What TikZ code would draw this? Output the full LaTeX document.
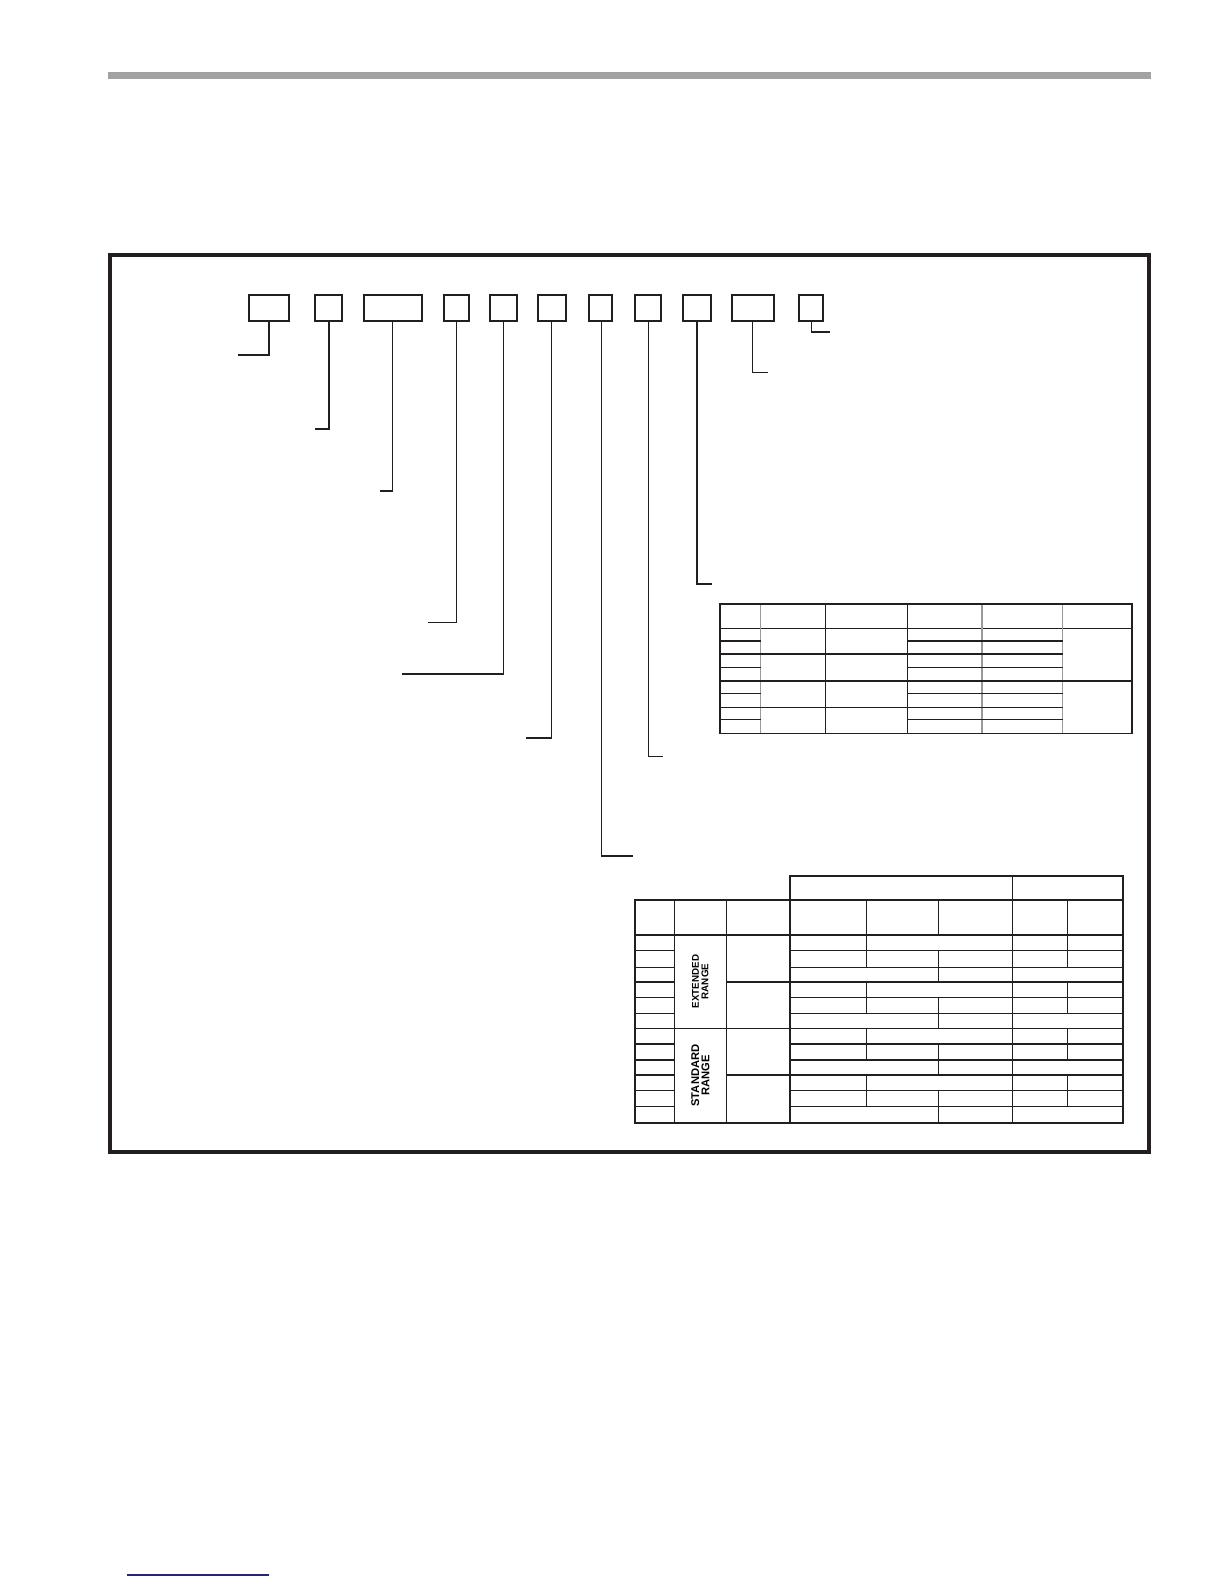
\documentclass[tikz,border=0pt]{standalone}
\usepackage{fontspec}
\setmainfont{Liberation Sans}
\definecolor{ink}{HTML}{231F20}
\definecolor{barGray}{HTML}{A2A2A2}
\definecolor{lineGray}{HTML}{9A9A9A}
\definecolor{navyRule}{HTML}{25257F}
\tikzset{
  codebox/.style={draw=ink, line width=1pt, inner sep=0pt, minimum height=13pt},
  leadthin/.style={draw=ink, line width=0.6pt},
  leadthick/.style={draw=ink, line width=1pt},
  tline/.style={draw=ink, line width=0.55pt},
  tgray/.style={draw=lineGray, line width=0.55pt},
  tthick/.style={draw=ink, line width=1pt},
  rangelabel/.style={rotate=90, align=center, inner sep=0pt}
}
\begin{document}
\begin{tikzpicture}[x=0.5pt, y=-0.5pt]
\useasboundingbox (0,0) rectangle (1224,1584);
% top grey rule and frame
\fill[barGray] (108,72) rectangle (1151,79);
\draw[ink, line width=2pt] (110,254.7) rectangle (1149,1152);
% bottom navy rule
\draw[navyRule, line width=0.6pt] (127.3,1575) -- (268.7,1575);

% code boxes
\node[codebox, minimum width=20pt]    (b1)  at (269.3,308.3) {};
\node[codebox, minimum width=13.5pt]  (b2)  at (328.8,308.3) {};
\node[codebox, minimum width=29pt]    (b3)  at (392.7,308.3) {};
\node[codebox, minimum width=12.65pt] (b4)  at (456.35,308.3) {};
\node[codebox, minimum width=13.2pt]  (b5)  at (503.5,308.3) {};
\node[codebox, minimum width=13.85pt] (b6)  at (551.85,308.3) {};
\node[codebox, minimum width=11.7pt]  (b7)  at (600.6,308.3) {};
\node[codebox, minimum width=13.15pt] (b8)  at (648.15,308.3) {};
\node[codebox, minimum width=13.7pt]  (b9)  at (697,308.3) {};
\node[codebox, minimum width=20.85pt] (b10) at (752.85,308.3) {};
\node[codebox, minimum width=12pt]    (b11) at (811.3,308.3) {};

% leader ends
\coordinate (l1) at (238,355);
\coordinate (l2) at (315,429);
\coordinate (l3) at (380,491);
\coordinate (l4) at (428.3,622.7);
\coordinate (l5) at (402,674);
\coordinate (l6) at (526,738);
\coordinate (l7) at (632.7,856);
\coordinate (l8) at (662.7,756.7);
\coordinate (l9) at (711.7,584);
\coordinate (l10) at (767.5,372.7);
\coordinate (l11) at (830,332);

\draw[leadthick] (b1.south) |- (l1);
\draw[leadthick] (b2.south) |- (l2);
\draw[leadthin]  (b3.south) |- (l3);
\draw[leadthin]  (b4.south) |- (l4);
\draw[leadthin]  (b5.south) |- (l5);
\draw[leadthin]  (b6.south) |- (l6);
\draw[leadthin]  ([xshift=0.6pt]b7.south) |- (l7);
\draw[leadthin]  (b8.south) |- (l8);
\draw[leadthick] (b9.south) |- (l9);
\draw[leadthin]  (b10.south) |- (l10);
\draw[leadthin]  (b11.south) |- (l11);

% ---------- small table ----------
\draw[tline] (720,628.3) -- (1132,628.3);
\foreach \x in {825.3,907.3} \draw[tline] (\x,604) -- (\x,733.3);
\foreach \x in {760.7,982,1062.7} \draw[tgray] (\x,604) -- (\x,733.3);
\foreach \y in {641,654,667.3,681,693.3,707.3,719.3} {
  \draw[tline] (720,\y) -- (760.7,\y);
  \draw[tline] (907.3,\y) -- (1062.7,\y);
}
\foreach \y in {654,681,707.3} \draw[tline] (760.7,\y) -- (907.3,\y);
\draw[tline] (1062.7,681) -- (1132,681);
\draw[ink, line width=0.8pt] (720,604) rectangle (1132,733.3);

% ---------- large table ----------
% group header
\draw[tthick] (790,900) -- (790,875.7) -- (1123,875.7) -- (1123,900);
\draw[tline] (1012.7,875.7) -- (1012.7,900);
% full-height verticals
\foreach \x in {674.3,726.3,1012.7} \draw[tline] (\x,900) -- (\x,1122.7);
\draw[tthick] (790,900) -- (790,1122.7);
% partial verticals
\foreach \x in {866.7,1067.3} {
  \draw[tline] (\x,900) -- (\x,967.3);
  \draw[tline] (\x,982) -- (\x,1013.3);
  \draw[tline] (\x,1028.3) -- (\x,1060);
  \draw[tline] (\x,1075) -- (\x,1106.7);
}
\draw[tline] (938.3,900) -- (938.3,934.7);
\draw[tline] (938.3,950.7) -- (938.3,982);
\draw[tline] (938.3,997.3) -- (938.3,1028.3);
\draw[tline] (938.3,1044) -- (938.3,1075);
\draw[tline] (938.3,1090.7) -- (938.3,1122.7);
% horizontals
\foreach \y in {950.7,967.3,982,997.3,1013.3,1028.3,1044,1060,1075,1090.7,1106.7} {
  \draw[tline] (635,\y) -- (674.3,\y);
  \draw[tline] (790,\y) -- (1123,\y);
}
\foreach \y in {982,1028.3,1075} \draw[tline] (726.3,\y) -- (790,\y);
\draw[tline] (674.3,1028.3) -- (726.3,1028.3);
\draw[tthick] (726.3,982) -- (1123,982);
\draw[tthick] (635,934.7) -- (1123,934.7);
\draw[tthick] (635,900) rectangle (1123,1122.7);

\node[rangelabel, font=\bfseries\fontsize{4.9}{4.8}\selectfont] (ext) at (700.3,981.5) {EXTENDED\\RANGE};
\node[rangelabel, font=\bfseries\fontsize{5.6}{5.1}\selectfont] (std) at (700.3,1075.5) {STANDARD\\RANGE};
\end{tikzpicture}
\end{document}
